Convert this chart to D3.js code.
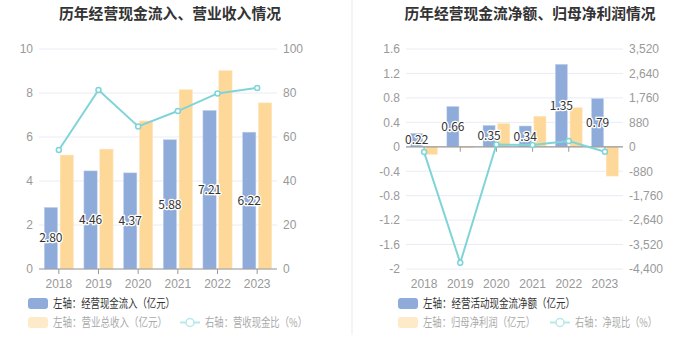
<!DOCTYPE html>
<html><head><meta charset="utf-8">
<script src="https://cdn.jsdelivr.net/npm/d3@7"></script>
<style>body{margin:0;background:#fff;}svg{display:block;font-family:"Noto Sans CJK SC","Noto Sans",sans-serif;}</style>
</head><body><svg id="c" width="700" height="360"></svg>
<script>
const years = ["2018","2019","2020","2021","2022","2023"];
// Left chart
const cashInflow = [2.80, 4.46, 4.37, 5.88, 7.21, 6.22];
const revenue = [5.18, 5.45, 6.73, 8.15, 9.02, 7.55];
const cashRevenueRatio = [54.1, 81.4, 64.8, 71.8, 79.8, 82.3];
const leftTicksL = [0, 2, 4, 6, 8, 10];
const leftTicksR = [0, 20, 40, 60, 80, 100];
// Right chart
const netCashFlow = [0.22, 0.66, 0.35, 0.34, 1.35, 0.79];
const netProfit = [-0.125, -0.016, 0.38, 0.50, 0.64, -0.48];
const netCashRatio = [-192, -4176, 84, 60, 204, -180];
const rightTicksL = [-2, -1.6, -1.2, -0.8, -0.4, 0, 0.4, 0.8, 1.2, 1.6];
const rightTicksR = [-4400, -3520, -2640, -1760, -880, 0, 880, 1760, 2640, 3520];

const BLUE = "#8eabd9", ORANGE = "#fed898", LINE = "#7fd4d8";
const svg = d3.select("#c");

// divider
svg.append("rect").attr("x", 351).attr("y", 0).attr("width", 2).attr("height", 335).attr("fill", "#f4f4f4");

function fitText(sel, len) {
  sel.attr("textLength", len).attr("lengthAdjust", "spacingAndGlyphs");
}

function panel(o) {
  const g = svg.append("g");
  g.append("text").attr("x", o.titleX).attr("y", 19).attr("text-anchor", "middle")
    .attr("font-size", 15).attr("font-weight", "bold").attr("fill", "#333").text(o.title)
    .call(fitText, o.titleW);
  const x = d3.scaleBand().domain(years).range([o.x0, o.x1]);
  const yL = d3.scaleLinear().domain(o.domL).range([269, 49]);
  const yR = d3.scaleLinear().domain(o.domR).range([269, 49]);
  // grid
  g.selectAll(".grid").data(o.ticksL).enter().append("line")
    .attr("x1", o.x0).attr("x2", o.x1).attr("y1", d => yL(d)).attr("y2", d => yL(d))
    .attr("stroke", "#e8ecf4").attr("stroke-width", 1);
  // left axis labels
  const axL = g.append("g").attr("transform", `translate(${o.x0 - 6},0)`)
    .call(d3.axisLeft(yL).tickValues(o.ticksL).tickSize(0).tickPadding(0).tickFormat(o.fmtL));
  axL.select(".domain").remove();
  axL.selectAll("text").attr("fill", "#999").attr("font-size", 12).attr("font-family", "inherit");
  const axR = g.append("g").attr("transform", `translate(${o.x1 + 6},0)`)
    .call(d3.axisRight(yR).tickValues(o.ticksR).tickSize(0).tickPadding(0).tickFormat(o.fmtR));
  axR.select(".domain").remove();
  axR.selectAll("text").attr("fill", "#999").attr("font-size", 12).attr("font-family", "inherit");
  const bw = x.bandwidth();
  const w = bw * 0.335;
  // bars
  g.selectAll(".b1").data(o.s1).enter().append("rect")
    .attr("x", (d, i) => x(years[i]) + bw / 2 - 1.3 - w)
    .attr("y", d => Math.min(yL(d), yL(0))).attr("width", w)
    .attr("height", d => Math.abs(yL(d) - yL(0))).attr("fill", BLUE)
    .attr("stroke", "#c7d6ee").attr("stroke-width", 0.5);
  g.selectAll(".b2").data(o.s2).enter().append("rect")
    .attr("x", (d, i) => x(years[i]) + bw / 2 + 1.3)
    .attr("y", d => Math.min(yL(d), yL(0))).attr("width", w)
    .attr("height", d => Math.abs(yL(d) - yL(0))).attr("fill", ORANGE)
    .attr("stroke", "#ffe8c2").attr("stroke-width", 0.5);
  // x axis line at zero
  const zy = yL(0);
  g.append("line").attr("x1", o.x0).attr("x2", o.x1).attr("y1", zy).attr("y2", zy)
    .attr("stroke", "#999").attr("stroke-width", 1.2);
  g.selectAll(".tk").data(years).enter().append("line")
    .attr("x1", d => x(d) + bw / 2).attr("x2", d => x(d) + bw / 2)
    .attr("y1", zy).attr("y2", zy + 5).attr("stroke", "#999");
  const axB = g.append("g").attr("transform", `translate(0,269)`)
    .call(d3.axisBottom(x).tickSize(0).tickPadding(10));
  axB.select(".domain").remove();
  axB.selectAll("text").attr("fill", "#999").attr("font-size", 12).attr("font-family", "inherit");
  // line
  const line = d3.line().x((d, i) => x(years[i]) + bw / 2).y(d => yR(d));
  g.append("path").datum(o.s3).attr("d", line).attr("fill", "none")
    .attr("stroke", LINE).attr("stroke-width", 2);
  g.selectAll(".pt").data(o.s3).enter().append("circle")
    .attr("cx", (d, i) => x(years[i]) + bw / 2).attr("cy", d => yR(d)).attr("r", 2.5)
    .attr("fill", "#fff").attr("stroke", LINE).attr("stroke-width", 1.5);
  // labels
  g.selectAll(".lb").data(o.s1).enter().append("text")
    .attr("x", (d, i) => x(years[i]) + bw / 2 - 1.3 - w / 2)
    .attr("y", d => (yL(d) + yL(0)) / 2).attr("dy", "0.35em").attr("text-anchor", "middle")
    .attr("font-size", 12).attr("fill", "#333").attr("stroke", "#fff").attr("stroke-width", 2.5)
    .attr("paint-order", "stroke").text(d => d.toFixed(2));
  // legend
  const L = g.append("g");
  L.append("rect").attr("x", o.lx).attr("y", 298).attr("width", 20).attr("height", 11).attr("rx", 3).attr("fill", BLUE);
  L.append("text").attr("x", o.lx + 25).attr("y", 303.5).attr("dy", "0.35em").attr("font-size", 12).attr("fill", "#333")
    .text(o.leg[0]).call(fitText, o.legW[0]);
  L.append("rect").attr("x", o.lx).attr("y", 317).attr("width", 20).attr("height", 11).attr("rx", 3).attr("fill", "#fee9c9");
  L.append("text").attr("x", o.lx + 25).attr("y", 322.5).attr("dy", "0.35em").attr("font-size", 12).attr("fill", "#aaa")
    .text(o.leg[1]).call(fitText, o.legW[1]);
  L.append("line").attr("x1", o.lx2).attr("x2", o.lx2 + 20).attr("y1", 322.5).attr("y2", 322.5).attr("stroke", "#b8e8ea").attr("stroke-width", 2);
  L.append("circle").attr("cx", o.lx2 + 10).attr("cy", 322.5).attr("r", 4).attr("fill", "#fff").attr("stroke", "#b8e8ea").attr("stroke-width", 1.5);
  L.append("text").attr("x", o.lx2 + 25).attr("y", 322.5).attr("dy", "0.35em").attr("font-size", 12).attr("fill", "#aaa")
    .text(o.leg[2]).call(fitText, o.legW[2]);
}

const fmtMinus = f => d => f(d).replace("−", "-");

panel({
  title: "历年经营现金流入、营业收入情况", titleX: 170, titleW: 222,
  x0: 39, x1: 277, domL: [0, 10], domR: [0, 100], ticksL: leftTicksL, ticksR: leftTicksR,
  fmtL: d3.format("d"), fmtR: d3.format("d"),
  s1: cashInflow, s2: revenue, s3: cashRevenueRatio,
  lx: 28, lx2: 180,
  leg: ["左轴：经营现金流入（亿元）", "左轴：营业总收入（亿元）", "右轴：营收现金比（%）"],
  legW: [122, 114, 102]
});
panel({
  title: "历年经营现金流净额、归母净利润情况", titleX: 530, titleW: 251,
  x0: 406, x1: 623, domL: [-2, 1.6], domR: [-4400, 3520], ticksL: rightTicksL, ticksR: rightTicksR,
  fmtL: fmtMinus(d3.format("~g")), fmtR: fmtMinus(d3.format(",")),
  s1: netCashFlow, s2: netProfit, s3: netCashRatio,
  lx: 398, lx2: 550,
  leg: ["左轴：经营活动现金流净额（亿元）", "左轴：归母净利润（亿元）", "右轴：净现比（%）"],
  legW: [152, 112, 82]
});
</script></body></html>
